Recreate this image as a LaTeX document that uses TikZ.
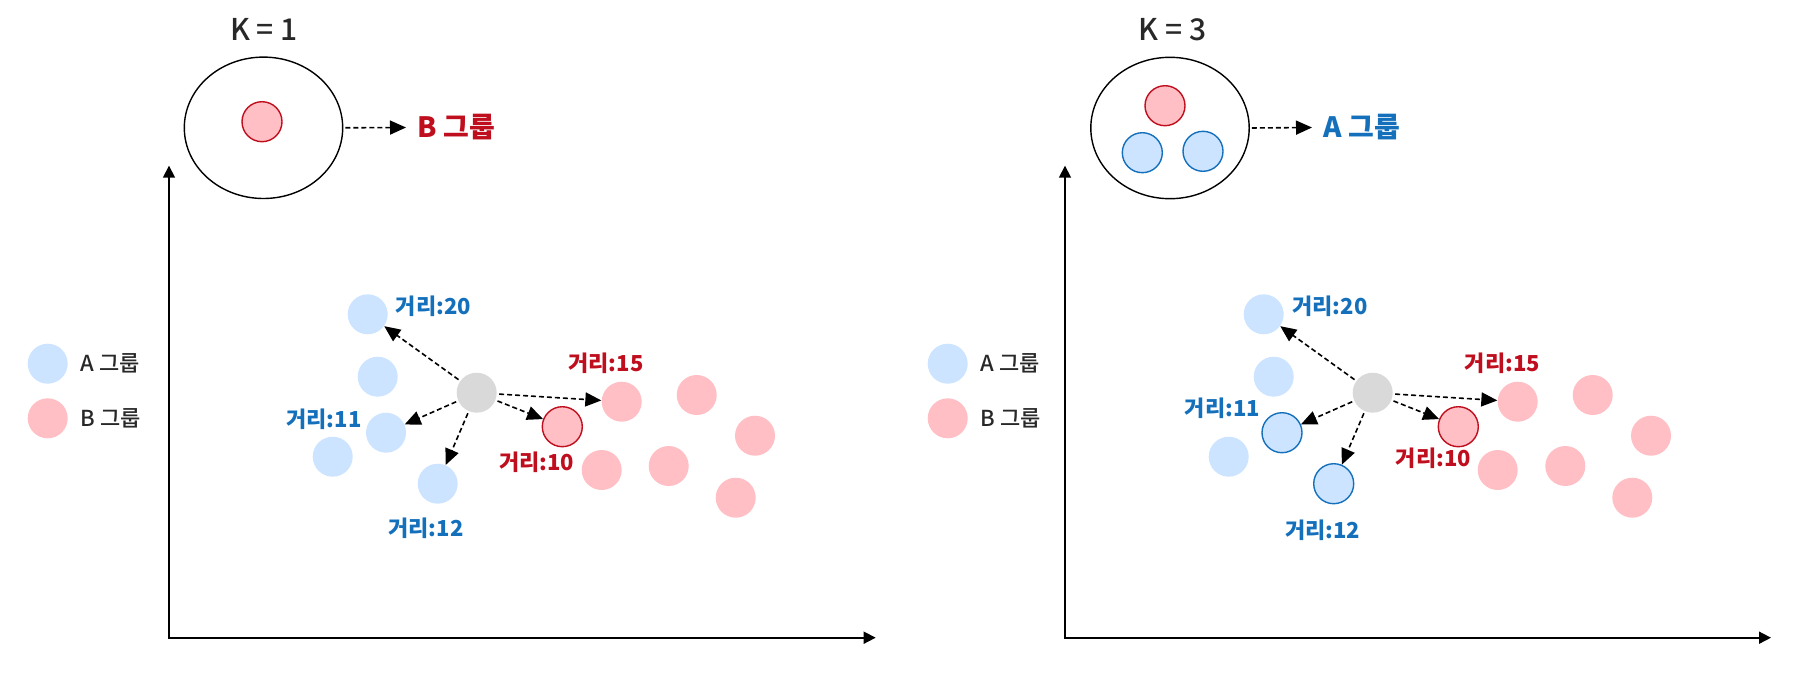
\documentclass[tikz,border=0pt]{standalone}
\usepackage{fontspec}
\setmainfont{Noto Sans CJK KR}
\newfontfamily\medfont{Noto Sans CJK KR Medium}
\usetikzlibrary{shapes.geometric,arrows.meta}
\definecolor{blueFill}{RGB}{204,228,255}
\definecolor{blueLine}{RGB}{21,112,188}
\definecolor{redFill}{RGB}{255,191,196}
\definecolor{redLine}{RGB}{191,14,30}
\definecolor{grayFill}{RGB}{217,217,217}
\definecolor{darkText}{RGB}{40,40,40}
\tikzset{
  pt/.style={circle, minimum size=20pt, inner sep=0pt, draw=none},
  ptA/.style={pt, fill=blueFill},
  ptAo/.style={pt, fill=blueFill, draw=blueLine, line width=0.7pt},
  ptB/.style={pt, fill=redFill},
  ptBo/.style={pt, fill=redFill, draw=redLine, line width=0.7pt},
  ptG/.style={pt, fill=grayFill},
  dist/.style={font=\bfseries\fontsize{11pt}{13pt}\selectfont, inner sep=0pt},
  distA/.style={dist, text=blueLine},
  distB/.style={dist, text=redLine},
  legtext/.style={font=\medfont\fontsize{11pt}{13pt}\selectfont, text=darkText, inner sep=0pt, anchor=west},
  ktext/.style={font=\medfont\fontsize{15pt}{18pt}\selectfont, text=darkText, inner sep=0pt},
  result/.style={font=\bfseries\fontsize{14pt}{17pt}\selectfont, inner xsep=5.5pt, inner ysep=0pt, anchor=west},
  bag/.style={ellipse, draw=black, line width=0.7pt, minimum width=79.2pt, minimum height=70.7pt, inner sep=0pt},
  darr/.style={draw=black, line width=0.8pt, dash pattern=on 2.5pt off 1.5pt, shorten <=1pt, -{Triangle[length=8pt,width=7pt]}},
  axis/.style={draw=black, line width=0.85pt, {Triangle[length=6pt,width=6pt]}-{Triangle[length=6pt,width=6pt]}},
}
\begin{document}
\begin{tikzpicture}[x=0.5pt,y=-0.5pt]
\path[use as bounding box] (0,0) rectangle (1810,680);

% ================= LEFT PANEL (K = 1) =================
\node[ktext] (k1) at (264,29.3) {K = 1};
\node[bag] (bag1) at (263.5,127.8) {};
\node[ptBo] (bag1b) at (262,121.7) {};
\node[result, text=redLine] (res1) at (406,127.5) {B 그룹};
\draw[darr] (bag1.east) -- (res1.west);

\coordinate (Y1) at (169,165.7);
\coordinate (O1) at (169,637.7);
\coordinate (X1) at (875.7,637.7);
\draw[axis] (Y1) -- (O1) -- (X1);

% legend
\node[ptA] (legA1) at (47.7,363.7) {};
\node[legtext] (legA1t) at (80,363.7) {A 그룹};
\node[ptB] (legB1) at (47.7,418.3) {};
\node[legtext] (legB1t) at (80,418.3) {B 그룹};

% points
\node[ptA] (la1) at (367.7,314.3) {};
\node[ptA] (la2) at (377.7,376.7) {};
\node[ptA] (la3) at (386,432.7) {};
\node[ptA] (la4) at (332.7,456.7) {};
\node[ptA] (la5) at (437.7,483.7) {};
\node[ptG] (lg) at (476.7,392.7) {};
\node[ptBo] (lb1) at (562.3,426.7) {};
\node[ptB] (lb2) at (621.7,401.7) {};
\node[ptB] (lb3) at (696.7,395) {};
\node[ptB] (lb4) at (755,435.7) {};
\node[ptB] (lb5) at (601.7,470) {};
\node[ptB] (lb6) at (668.7,466) {};
\node[ptB] (lb7) at (735.7,497.7) {};

\draw[darr] (lg) -- (la1);
\draw[darr] (lg) -- (la3);
\draw[darr] (lg) -- (la5);
\draw[darr] (lg) -- (lb1);
\draw[darr] (lg) -- (lb2);

\node[distA] (ld20) at (433.3,306) {거리:20};
\node[distB] (ld15) at (606,363.3) {거리:15};
\node[distA] (ld11) at (324,419) {거리:11};
\node[distB] (ld10) at (536.7,462.3) {거리:10};
\node[distA] (ld12) at (426,528.3) {거리:12};

% ================= RIGHT PANEL (K = 3) =================
\node[ktext] (k3) at (1172.5,29.3) {K = 3};
\node[bag] (bag3) at (1170,128) {};
\node[ptBo] (bag3b) at (1165,105.7) {};
\node[ptAo] (bag3a1) at (1142.3,152.7) {};
\node[ptAo] (bag3a2) at (1203,151.3) {};
\node[result, text=blueLine] (res3) at (1312,127.5) {A 그룹};
\draw[darr] (bag3.east) -- (res3.west);

\coordinate (Y3) at (1065,165.7);
\coordinate (O3) at (1065,637.7);
\coordinate (X3) at (1771,637.7);
\draw[axis] (Y3) -- (O3) -- (X3);

% legend
\node[ptA] (legA3) at (947.7,363.7) {};
\node[legtext] (legA3t) at (980,363.7) {A 그룹};
\node[ptB] (legB3) at (947.7,418.3) {};
\node[legtext] (legB3t) at (980,418.3) {B 그룹};

% points
\node[ptA] (ra1) at (1263.7,314.3) {};
\node[ptA] (ra2) at (1273.7,376.7) {};
\node[ptAo] (ra3) at (1282,432.7) {};
\node[ptA] (ra4) at (1228.7,456.7) {};
\node[ptAo] (ra5) at (1333.7,483.7) {};
\node[ptG] (rg) at (1372.7,392.7) {};
\node[ptBo] (rb1) at (1458.3,426.7) {};
\node[ptB] (rb2) at (1517.7,401.7) {};
\node[ptB] (rb3) at (1592.7,395) {};
\node[ptB] (rb4) at (1651,435.7) {};
\node[ptB] (rb5) at (1497.7,470) {};
\node[ptB] (rb6) at (1565.3,466) {};
\node[ptB] (rb7) at (1632.3,497.7) {};

\draw[darr] (rg) -- (ra1);
\draw[darr] (rg) -- (ra3);
\draw[darr] (rg) -- (ra5);
\draw[darr] (rg) -- (rb1);
\draw[darr] (rg) -- (rb2);

\node[distA] (rd20) at (1330,306) {거리:20};
\node[distB] (rd15) at (1502.3,363.3) {거리:15};
\node[distA] (rd11) at (1222.4,408.3) {거리:11};
\node[distB] (rd10) at (1433.3,458.3) {거리:10};
\node[distA] (rd12) at (1322.7,530) {거리:12};
\end{tikzpicture}
\end{document}
